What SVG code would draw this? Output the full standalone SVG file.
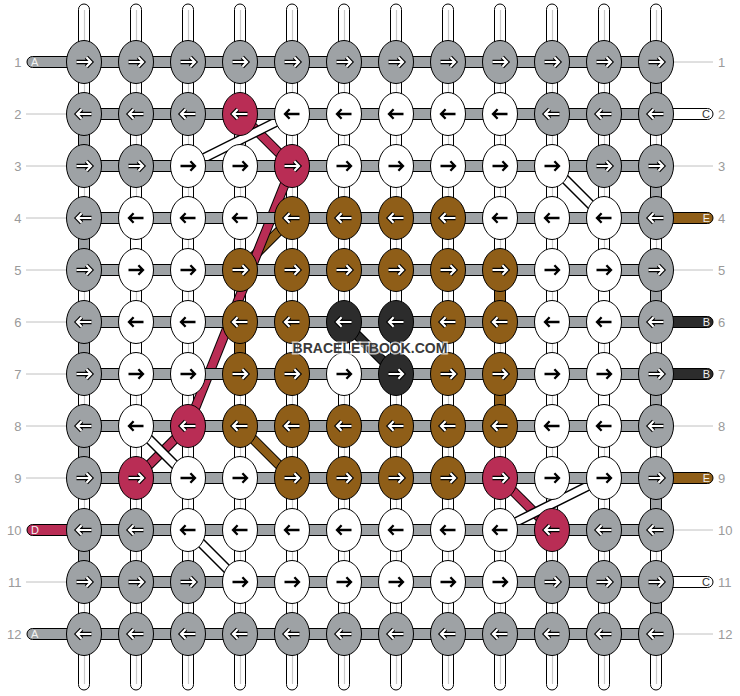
<svg xmlns="http://www.w3.org/2000/svg" xmlns:xlink="http://www.w3.org/1999/xlink" width="740" height="696" viewBox="0 0 740 696">
<style>
.G{fill:#9ea2a5}.W{fill:#fff}.R{fill:#b92d55}.B{fill:#8f5e18}.K{fill:#2c2c2c}
.tube{fill:#fff;stroke:#000;stroke-width:1}
.cl{stroke:#c8c8c8;stroke-width:1.2}
.gap{stroke:#000;stroke-width:1}
.hb{fill:#9ea2a5;stroke:#000;stroke-width:1}
.ll{stroke:#c0c0c0;stroke-width:1}
.num{font-family:"Liberation Sans",Arial,sans-serif;font-size:13px;fill:#9a9a9a}
.let{font-family:"Liberation Sans",Arial,sans-serif;font-size:11px;fill:#f2f2f2}
.bo{stroke:#000;stroke-width:10;fill:none}
</style>
<defs>
<ellipse id="k" cx="0" cy="0" rx="17.5" ry="21.5" stroke="#000" stroke-width="1"/>
<path id="ap" d="M-7.5,0H7M2.4,-4.8L7,0L2.4,4.8" fill="none" stroke-linejoin="miter"/>
<g id="wr"><use xlink:href="#ap" stroke="#000" stroke-width="4.4"/><use xlink:href="#ap" stroke="#fff" stroke-width="2.2"/></g>
<g id="wl" transform="scale(-1,1)"><use xlink:href="#ap" stroke="#000" stroke-width="4.4"/><use xlink:href="#ap" stroke="#fff" stroke-width="2.2"/></g>
<g id="br"><use xlink:href="#ap" stroke="#000" stroke-width="2.3"/></g>
<g id="bl" transform="scale(-1,1)"><use xlink:href="#ap" stroke="#000" stroke-width="2.3"/></g>
</defs>
<rect width="740" height="696" fill="#fff"/>
<g id="labels">
<line class="ll" x1="26" y1="114" x2="66" y2="114"/><line class="ll" x1="26" y1="166" x2="66" y2="166"/><line class="ll" x1="26" y1="218" x2="66" y2="218"/><line class="ll" x1="26" y1="270" x2="66" y2="270"/><line class="ll" x1="26" y1="322" x2="66" y2="322"/><line class="ll" x1="26" y1="374" x2="66" y2="374"/><line class="ll" x1="26" y1="426" x2="66" y2="426"/><line class="ll" x1="26" y1="478" x2="66" y2="478"/><line class="ll" x1="26" y1="582" x2="66" y2="582"/>
<line class="ll" x1="674" y1="62" x2="713" y2="62"/><line class="ll" x1="674" y1="166" x2="713" y2="166"/><line class="ll" x1="674" y1="270" x2="713" y2="270"/><line class="ll" x1="674" y1="426" x2="713" y2="426"/><line class="ll" x1="674" y1="530" x2="713" y2="530"/><line class="ll" x1="674" y1="634" x2="713" y2="634"/>
<g class="num" text-anchor="end">
<text x="21.5" y="66.5">1</text><text x="21.5" y="118.5">2</text><text x="21.5" y="170.5">3</text><text x="21.5" y="222.5">4</text><text x="21.5" y="274.5">5</text><text x="21.5" y="326.5">6</text><text x="21.5" y="378.5">7</text><text x="21.5" y="430.5">8</text><text x="21.5" y="482.5">9</text><text x="21.5" y="534.5">10</text><text x="21.5" y="586.5">11</text><text x="21.5" y="638.5">12</text>
</g>
<g class="num">
<text x="718" y="66.5">1</text><text x="718" y="118.5">2</text><text x="718" y="170.5">3</text><text x="718" y="222.5">4</text><text x="718" y="274.5">5</text><text x="718" y="326.5">6</text><text x="718" y="378.5">7</text><text x="718" y="430.5">8</text><text x="718" y="482.5">9</text><text x="718" y="534.5">10</text><text x="718" y="586.5">11</text><text x="718" y="638.5">12</text>
</g>
</g>
<g id="connectors">
<g id="columns">
<rect class="tube" x="78.5" y="4" width="11" height="686" rx="5.5"/><rect class="tube" x="130.5" y="4" width="11" height="686" rx="5.5"/><rect class="tube" x="182.5" y="4" width="11" height="686" rx="5.5"/><rect class="tube" x="234.5" y="4" width="11" height="686" rx="5.5"/><rect class="tube" x="286.5" y="4" width="11" height="686" rx="5.5"/><rect class="tube" x="338.5" y="4" width="11" height="686" rx="5.5"/><rect class="tube" x="390.5" y="4" width="11" height="686" rx="5.5"/><rect class="tube" x="442.5" y="4" width="11" height="686" rx="5.5"/><rect class="tube" x="494.5" y="4" width="11" height="686" rx="5.5"/><rect class="tube" x="546.5" y="4" width="11" height="686" rx="5.5"/><rect class="tube" x="598.5" y="4" width="11" height="686" rx="5.5"/><rect class="tube" x="650.5" y="4" width="11" height="686" rx="5.5"/>
<line class="cl" x1="84.5" y1="10" x2="84.5" y2="684"/><line class="cl" x1="136.5" y1="10" x2="136.5" y2="684"/><line class="cl" x1="188.5" y1="10" x2="188.5" y2="684"/><line class="cl" x1="240.5" y1="10" x2="240.5" y2="684"/><line class="cl" x1="292.5" y1="10" x2="292.5" y2="684"/><line class="cl" x1="344.5" y1="10" x2="344.5" y2="684"/><line class="cl" x1="396.5" y1="10" x2="396.5" y2="684"/><line class="cl" x1="448.5" y1="10" x2="448.5" y2="684"/><line class="cl" x1="500.5" y1="10" x2="500.5" y2="684"/><line class="cl" x1="552.5" y1="10" x2="552.5" y2="684"/><line class="cl" x1="604.5" y1="10" x2="604.5" y2="684"/><line class="cl" x1="656.5" y1="10" x2="656.5" y2="684"/>
</g>
<g id="turns">
<rect class="gap G" x="650.5" y="72" width="11" height="32"/><rect class="gap G" x="650.5" y="176" width="11" height="32"/><rect class="gap G" x="650.5" y="280" width="11" height="32"/><rect class="gap G" x="650.5" y="384" width="11" height="32"/><rect class="gap G" x="650.5" y="488" width="11" height="32"/><rect class="gap G" x="650.5" y="592" width="11" height="32"/>
<rect class="gap G" x="78.5" y="124" width="11" height="32"/><rect class="gap G" x="78.5" y="228" width="11" height="32"/><rect class="gap G" x="78.5" y="332" width="11" height="32"/><rect class="gap G" x="78.5" y="436" width="11" height="32"/><rect class="gap G" x="78.5" y="540" width="11" height="32"/>
<rect class="gap B" x="494.5" y="280" width="11" height="32"/><rect class="gap B" x="494.5" y="384" width="11" height="32"/><rect class="gap B" x="234.5" y="332" width="11" height="32"/>
<rect class="gap W" x="130.5" y="228" width="11" height="32"/><rect class="gap W" x="130.5" y="332" width="11" height="32"/><rect class="gap W" x="598.5" y="280" width="11" height="32"/><rect class="gap W" x="598.5" y="384" width="11" height="32"/>
</g>
<g id="diagonals">
<line class="bo" x1="292" y1="218" x2="240" y2="270"/><line stroke="#8f5e18" stroke-width="8" x1="292" y1="218" x2="240" y2="270"/>
<line class="bo" x1="240" y1="426" x2="292" y2="478"/><line stroke="#8f5e18" stroke-width="8" x1="240" y1="426" x2="292" y2="478"/>
<line class="bo" x1="240" y1="114" x2="292" y2="166"/><line stroke="#b92d55" stroke-width="8" x1="240" y1="114" x2="292" y2="166"/>
<line class="bo" x1="292" y1="166" x2="188" y2="426"/><line stroke="#b92d55" stroke-width="8" x1="292" y1="166" x2="188" y2="426"/>
<line class="bo" x1="188" y1="426" x2="136" y2="478"/><line stroke="#b92d55" stroke-width="8" x1="188" y1="426" x2="136" y2="478"/>
<line class="bo" x1="500" y1="478" x2="552" y2="530"/><line stroke="#b92d55" stroke-width="8" x1="500" y1="478" x2="552" y2="530"/>
<line class="bo" x1="344" y1="322" x2="396" y2="374"/><line stroke="#2c2c2c" stroke-width="8" x1="344" y1="322" x2="396" y2="374"/>
<line class="bo" stroke-width="9" x1="188" y1="166" x2="292" y2="114"/><line stroke="#fff" stroke-width="7" x1="188" y1="166" x2="292" y2="114"/>
<line class="bo" stroke-width="9" x1="552" y1="166" x2="604" y2="218"/><line stroke="#fff" stroke-width="7" x1="552" y1="166" x2="604" y2="218"/>
<line class="bo" stroke-width="9" x1="136" y1="426" x2="188" y2="478"/><line stroke="#fff" stroke-width="7" x1="136" y1="426" x2="188" y2="478"/>
<line class="bo" stroke-width="9" x1="500" y1="530" x2="604" y2="478"/><line stroke="#fff" stroke-width="7" x1="500" y1="530" x2="604" y2="478"/>
<line class="bo" stroke-width="9" x1="188" y1="530" x2="240" y2="582"/><line stroke="#fff" stroke-width="7" x1="188" y1="530" x2="240" y2="582"/>
</g>
<g id="rows">
<rect class="hb" x="84" y="56.5" width="572" height="11"/><rect class="hb" x="84" y="108.5" width="572" height="11"/><rect class="hb" x="84" y="160.5" width="572" height="11"/><rect class="hb" x="84" y="212.5" width="572" height="11"/><rect class="hb" x="84" y="264.5" width="572" height="11"/><rect class="hb" x="84" y="316.5" width="572" height="11"/><rect class="hb" x="84" y="368.5" width="572" height="11"/><rect class="hb" x="84" y="420.5" width="572" height="11"/><rect class="hb" x="84" y="472.5" width="572" height="11"/><rect class="hb" x="84" y="524.5" width="572" height="11"/><rect class="hb" x="84" y="576.5" width="572" height="11"/><rect class="hb" x="84" y="628.5" width="572" height="11"/>
</g>
<g id="tails" stroke="#000" stroke-width="1">
<path class="G" d="M84,56.5H32.5A5.5,5.5 0 0 0 32.5,67.5H84"/>
<path class="R" d="M84,524.5H32.5A5.5,5.5 0 0 0 32.5,535.5H84"/>
<path class="G" d="M84,628.5H32.5A5.5,5.5 0 0 0 32.5,639.5H84"/>
<path class="W" d="M656,108.5H707.5A5.5,5.5 0 0 1 707.5,119.5H656"/>
<path class="B" d="M656,212.5H707.5A5.5,5.5 0 0 1 707.5,223.5H656"/>
<path class="K" d="M656,316.5H707.5A5.5,5.5 0 0 1 707.5,327.5H656"/>
<path class="K" d="M656,368.5H707.5A5.5,5.5 0 0 1 707.5,379.5H656"/>
<path class="B" d="M656,472.5H707.5A5.5,5.5 0 0 1 707.5,483.5H656"/>
<path class="W" d="M656,576.5H707.5A5.5,5.5 0 0 1 707.5,587.5H656"/>
</g>
<g id="tail-letters" class="let">
<text x="31" y="66">A</text><text x="31" y="534">D</text><text x="31" y="638">A</text>
<text x="710" y="118" text-anchor="end" style="fill:#333">C</text><text x="710" y="222" text-anchor="end">E</text><text x="710" y="326" text-anchor="end">B</text><text x="710" y="378" text-anchor="end">B</text><text x="710" y="482" text-anchor="end">E</text><text x="710" y="586" text-anchor="end" style="fill:#333">C</text>
</g>
</g>
<g id="knots">
<g id="k1_1"><use xlink:href="#k" class="G" x="84" y="62"/><use xlink:href="#wr" x="84" y="62"/></g>
<g id="k1_2"><use xlink:href="#k" class="G" x="136" y="62"/><use xlink:href="#wr" x="136" y="62"/></g>
<g id="k1_3"><use xlink:href="#k" class="G" x="188" y="62"/><use xlink:href="#wr" x="188" y="62"/></g>
<g id="k1_4"><use xlink:href="#k" class="G" x="240" y="62"/><use xlink:href="#wr" x="240" y="62"/></g>
<g id="k1_5"><use xlink:href="#k" class="G" x="292" y="62"/><use xlink:href="#wr" x="292" y="62"/></g>
<g id="k1_6"><use xlink:href="#k" class="G" x="344" y="62"/><use xlink:href="#wr" x="344" y="62"/></g>
<g id="k1_7"><use xlink:href="#k" class="G" x="396" y="62"/><use xlink:href="#wr" x="396" y="62"/></g>
<g id="k1_8"><use xlink:href="#k" class="G" x="448" y="62"/><use xlink:href="#wr" x="448" y="62"/></g>
<g id="k1_9"><use xlink:href="#k" class="G" x="500" y="62"/><use xlink:href="#wr" x="500" y="62"/></g>
<g id="k1_10"><use xlink:href="#k" class="G" x="552" y="62"/><use xlink:href="#wr" x="552" y="62"/></g>
<g id="k1_11"><use xlink:href="#k" class="G" x="604" y="62"/><use xlink:href="#wr" x="604" y="62"/></g>
<g id="k1_12"><use xlink:href="#k" class="G" x="656" y="62"/><use xlink:href="#wr" x="656" y="62"/></g>

<g id="k2_1"><use xlink:href="#k" class="G" x="84" y="114"/><use xlink:href="#wl" x="84" y="114"/></g>
<g id="k2_2"><use xlink:href="#k" class="G" x="136" y="114"/><use xlink:href="#wl" x="136" y="114"/></g>
<g id="k2_3"><use xlink:href="#k" class="G" x="188" y="114"/><use xlink:href="#wl" x="188" y="114"/></g>
<g id="k2_4"><use xlink:href="#k" class="R" x="240" y="114"/><use xlink:href="#wl" x="240" y="114"/></g>
<g id="k2_5"><use xlink:href="#k" class="W" x="292" y="114"/><use xlink:href="#bl" x="292" y="114"/></g>
<g id="k2_6"><use xlink:href="#k" class="W" x="344" y="114"/><use xlink:href="#bl" x="344" y="114"/></g>
<g id="k2_7"><use xlink:href="#k" class="W" x="396" y="114"/><use xlink:href="#bl" x="396" y="114"/></g>
<g id="k2_8"><use xlink:href="#k" class="W" x="448" y="114"/><use xlink:href="#bl" x="448" y="114"/></g>
<g id="k2_9"><use xlink:href="#k" class="W" x="500" y="114"/><use xlink:href="#bl" x="500" y="114"/></g>
<g id="k2_10"><use xlink:href="#k" class="G" x="552" y="114"/><use xlink:href="#wl" x="552" y="114"/></g>
<g id="k2_11"><use xlink:href="#k" class="G" x="604" y="114"/><use xlink:href="#wl" x="604" y="114"/></g>
<g id="k2_12"><use xlink:href="#k" class="G" x="656" y="114"/><use xlink:href="#wl" x="656" y="114"/></g>

<g id="k3_1"><use xlink:href="#k" class="G" x="84" y="166"/><use xlink:href="#wr" x="84" y="166"/></g>
<g id="k3_2"><use xlink:href="#k" class="G" x="136" y="166"/><use xlink:href="#wr" x="136" y="166"/></g>
<g id="k3_3"><use xlink:href="#k" class="W" x="188" y="166"/><use xlink:href="#br" x="188" y="166"/></g>
<g id="k3_4"><use xlink:href="#k" class="W" x="240" y="166"/><use xlink:href="#br" x="240" y="166"/></g>
<g id="k3_5"><use xlink:href="#k" class="R" x="292" y="166"/><use xlink:href="#wr" x="292" y="166"/></g>
<g id="k3_6"><use xlink:href="#k" class="W" x="344" y="166"/><use xlink:href="#br" x="344" y="166"/></g>
<g id="k3_7"><use xlink:href="#k" class="W" x="396" y="166"/><use xlink:href="#br" x="396" y="166"/></g>
<g id="k3_8"><use xlink:href="#k" class="W" x="448" y="166"/><use xlink:href="#br" x="448" y="166"/></g>
<g id="k3_9"><use xlink:href="#k" class="W" x="500" y="166"/><use xlink:href="#br" x="500" y="166"/></g>
<g id="k3_10"><use xlink:href="#k" class="W" x="552" y="166"/><use xlink:href="#br" x="552" y="166"/></g>
<g id="k3_11"><use xlink:href="#k" class="G" x="604" y="166"/><use xlink:href="#wr" x="604" y="166"/></g>
<g id="k3_12"><use xlink:href="#k" class="G" x="656" y="166"/><use xlink:href="#wr" x="656" y="166"/></g>

<g id="k4_1"><use xlink:href="#k" class="G" x="84" y="218"/><use xlink:href="#wl" x="84" y="218"/></g>
<g id="k4_2"><use xlink:href="#k" class="W" x="136" y="218"/><use xlink:href="#bl" x="136" y="218"/></g>
<g id="k4_3"><use xlink:href="#k" class="W" x="188" y="218"/><use xlink:href="#bl" x="188" y="218"/></g>
<g id="k4_4"><use xlink:href="#k" class="W" x="240" y="218"/><use xlink:href="#bl" x="240" y="218"/></g>
<g id="k4_5"><use xlink:href="#k" class="B" x="292" y="218"/><use xlink:href="#wl" x="292" y="218"/></g>
<g id="k4_6"><use xlink:href="#k" class="B" x="344" y="218"/><use xlink:href="#wl" x="344" y="218"/></g>
<g id="k4_7"><use xlink:href="#k" class="B" x="396" y="218"/><use xlink:href="#wl" x="396" y="218"/></g>
<g id="k4_8"><use xlink:href="#k" class="B" x="448" y="218"/><use xlink:href="#wl" x="448" y="218"/></g>
<g id="k4_9"><use xlink:href="#k" class="W" x="500" y="218"/><use xlink:href="#bl" x="500" y="218"/></g>
<g id="k4_10"><use xlink:href="#k" class="W" x="552" y="218"/><use xlink:href="#bl" x="552" y="218"/></g>
<g id="k4_11"><use xlink:href="#k" class="W" x="604" y="218"/><use xlink:href="#bl" x="604" y="218"/></g>
<g id="k4_12"><use xlink:href="#k" class="G" x="656" y="218"/><use xlink:href="#wl" x="656" y="218"/></g>

<g id="k5_1"><use xlink:href="#k" class="G" x="84" y="270"/><use xlink:href="#wr" x="84" y="270"/></g>
<g id="k5_2"><use xlink:href="#k" class="W" x="136" y="270"/><use xlink:href="#br" x="136" y="270"/></g>
<g id="k5_3"><use xlink:href="#k" class="W" x="188" y="270"/><use xlink:href="#br" x="188" y="270"/></g>
<g id="k5_4"><use xlink:href="#k" class="B" x="240" y="270"/><use xlink:href="#wr" x="240" y="270"/></g>
<g id="k5_5"><use xlink:href="#k" class="B" x="292" y="270"/><use xlink:href="#wr" x="292" y="270"/></g>
<g id="k5_6"><use xlink:href="#k" class="B" x="344" y="270"/><use xlink:href="#wr" x="344" y="270"/></g>
<g id="k5_7"><use xlink:href="#k" class="B" x="396" y="270"/><use xlink:href="#wr" x="396" y="270"/></g>
<g id="k5_8"><use xlink:href="#k" class="B" x="448" y="270"/><use xlink:href="#wr" x="448" y="270"/></g>
<g id="k5_9"><use xlink:href="#k" class="B" x="500" y="270"/><use xlink:href="#wr" x="500" y="270"/></g>
<g id="k5_10"><use xlink:href="#k" class="W" x="552" y="270"/><use xlink:href="#br" x="552" y="270"/></g>
<g id="k5_11"><use xlink:href="#k" class="W" x="604" y="270"/><use xlink:href="#br" x="604" y="270"/></g>
<g id="k5_12"><use xlink:href="#k" class="G" x="656" y="270"/><use xlink:href="#wr" x="656" y="270"/></g>

<g id="k6_1"><use xlink:href="#k" class="G" x="84" y="322"/><use xlink:href="#wl" x="84" y="322"/></g>
<g id="k6_2"><use xlink:href="#k" class="W" x="136" y="322"/><use xlink:href="#bl" x="136" y="322"/></g>
<g id="k6_3"><use xlink:href="#k" class="W" x="188" y="322"/><use xlink:href="#bl" x="188" y="322"/></g>
<g id="k6_4"><use xlink:href="#k" class="B" x="240" y="322"/><use xlink:href="#wl" x="240" y="322"/></g>
<g id="k6_5"><use xlink:href="#k" class="B" x="292" y="322"/><use xlink:href="#wl" x="292" y="322"/></g>
<g id="k6_6"><use xlink:href="#k" class="K" x="344" y="322"/><use xlink:href="#wl" x="344" y="322"/></g>
<g id="k6_7"><use xlink:href="#k" class="K" x="396" y="322"/><use xlink:href="#wl" x="396" y="322"/></g>
<g id="k6_8"><use xlink:href="#k" class="B" x="448" y="322"/><use xlink:href="#wl" x="448" y="322"/></g>
<g id="k6_9"><use xlink:href="#k" class="B" x="500" y="322"/><use xlink:href="#wl" x="500" y="322"/></g>
<g id="k6_10"><use xlink:href="#k" class="W" x="552" y="322"/><use xlink:href="#bl" x="552" y="322"/></g>
<g id="k6_11"><use xlink:href="#k" class="W" x="604" y="322"/><use xlink:href="#bl" x="604" y="322"/></g>
<g id="k6_12"><use xlink:href="#k" class="G" x="656" y="322"/><use xlink:href="#wl" x="656" y="322"/></g>

<g id="k7_1"><use xlink:href="#k" class="G" x="84" y="374"/><use xlink:href="#wr" x="84" y="374"/></g>
<g id="k7_2"><use xlink:href="#k" class="W" x="136" y="374"/><use xlink:href="#br" x="136" y="374"/></g>
<g id="k7_3"><use xlink:href="#k" class="W" x="188" y="374"/><use xlink:href="#br" x="188" y="374"/></g>
<g id="k7_4"><use xlink:href="#k" class="B" x="240" y="374"/><use xlink:href="#wr" x="240" y="374"/></g>
<g id="k7_5"><use xlink:href="#k" class="B" x="292" y="374"/><use xlink:href="#wr" x="292" y="374"/></g>
<g id="k7_6"><use xlink:href="#k" class="W" x="344" y="374"/><use xlink:href="#br" x="344" y="374"/></g>
<g id="k7_7"><use xlink:href="#k" class="K" x="396" y="374"/><use xlink:href="#wr" x="396" y="374"/></g>
<g id="k7_8"><use xlink:href="#k" class="B" x="448" y="374"/><use xlink:href="#wr" x="448" y="374"/></g>
<g id="k7_9"><use xlink:href="#k" class="B" x="500" y="374"/><use xlink:href="#wr" x="500" y="374"/></g>
<g id="k7_10"><use xlink:href="#k" class="W" x="552" y="374"/><use xlink:href="#br" x="552" y="374"/></g>
<g id="k7_11"><use xlink:href="#k" class="W" x="604" y="374"/><use xlink:href="#br" x="604" y="374"/></g>
<g id="k7_12"><use xlink:href="#k" class="G" x="656" y="374"/><use xlink:href="#wr" x="656" y="374"/></g>

<g id="k8_1"><use xlink:href="#k" class="G" x="84" y="426"/><use xlink:href="#wl" x="84" y="426"/></g>
<g id="k8_2"><use xlink:href="#k" class="W" x="136" y="426"/><use xlink:href="#bl" x="136" y="426"/></g>
<g id="k8_3"><use xlink:href="#k" class="R" x="188" y="426"/><use xlink:href="#wl" x="188" y="426"/></g>
<g id="k8_4"><use xlink:href="#k" class="B" x="240" y="426"/><use xlink:href="#wl" x="240" y="426"/></g>
<g id="k8_5"><use xlink:href="#k" class="B" x="292" y="426"/><use xlink:href="#wl" x="292" y="426"/></g>
<g id="k8_6"><use xlink:href="#k" class="B" x="344" y="426"/><use xlink:href="#wl" x="344" y="426"/></g>
<g id="k8_7"><use xlink:href="#k" class="B" x="396" y="426"/><use xlink:href="#wl" x="396" y="426"/></g>
<g id="k8_8"><use xlink:href="#k" class="B" x="448" y="426"/><use xlink:href="#wl" x="448" y="426"/></g>
<g id="k8_9"><use xlink:href="#k" class="B" x="500" y="426"/><use xlink:href="#wl" x="500" y="426"/></g>
<g id="k8_10"><use xlink:href="#k" class="W" x="552" y="426"/><use xlink:href="#bl" x="552" y="426"/></g>
<g id="k8_11"><use xlink:href="#k" class="W" x="604" y="426"/><use xlink:href="#bl" x="604" y="426"/></g>
<g id="k8_12"><use xlink:href="#k" class="G" x="656" y="426"/><use xlink:href="#wl" x="656" y="426"/></g>

<g id="k9_1"><use xlink:href="#k" class="G" x="84" y="478"/><use xlink:href="#wr" x="84" y="478"/></g>
<g id="k9_2"><use xlink:href="#k" class="R" x="136" y="478"/><use xlink:href="#wr" x="136" y="478"/></g>
<g id="k9_3"><use xlink:href="#k" class="W" x="188" y="478"/><use xlink:href="#br" x="188" y="478"/></g>
<g id="k9_4"><use xlink:href="#k" class="W" x="240" y="478"/><use xlink:href="#br" x="240" y="478"/></g>
<g id="k9_5"><use xlink:href="#k" class="B" x="292" y="478"/><use xlink:href="#wr" x="292" y="478"/></g>
<g id="k9_6"><use xlink:href="#k" class="B" x="344" y="478"/><use xlink:href="#wr" x="344" y="478"/></g>
<g id="k9_7"><use xlink:href="#k" class="B" x="396" y="478"/><use xlink:href="#wr" x="396" y="478"/></g>
<g id="k9_8"><use xlink:href="#k" class="B" x="448" y="478"/><use xlink:href="#wr" x="448" y="478"/></g>
<g id="k9_9"><use xlink:href="#k" class="R" x="500" y="478"/><use xlink:href="#wr" x="500" y="478"/></g>
<g id="k9_10"><use xlink:href="#k" class="W" x="552" y="478"/><use xlink:href="#br" x="552" y="478"/></g>
<g id="k9_11"><use xlink:href="#k" class="W" x="604" y="478"/><use xlink:href="#br" x="604" y="478"/></g>
<g id="k9_12"><use xlink:href="#k" class="G" x="656" y="478"/><use xlink:href="#wr" x="656" y="478"/></g>

<g id="k10_1"><use xlink:href="#k" class="G" x="84" y="530"/><use xlink:href="#wl" x="84" y="530"/></g>
<g id="k10_2"><use xlink:href="#k" class="G" x="136" y="530"/><use xlink:href="#wl" x="136" y="530"/></g>
<g id="k10_3"><use xlink:href="#k" class="W" x="188" y="530"/><use xlink:href="#bl" x="188" y="530"/></g>
<g id="k10_4"><use xlink:href="#k" class="W" x="240" y="530"/><use xlink:href="#bl" x="240" y="530"/></g>
<g id="k10_5"><use xlink:href="#k" class="W" x="292" y="530"/><use xlink:href="#bl" x="292" y="530"/></g>
<g id="k10_6"><use xlink:href="#k" class="W" x="344" y="530"/><use xlink:href="#bl" x="344" y="530"/></g>
<g id="k10_7"><use xlink:href="#k" class="W" x="396" y="530"/><use xlink:href="#bl" x="396" y="530"/></g>
<g id="k10_8"><use xlink:href="#k" class="W" x="448" y="530"/><use xlink:href="#bl" x="448" y="530"/></g>
<g id="k10_9"><use xlink:href="#k" class="W" x="500" y="530"/><use xlink:href="#bl" x="500" y="530"/></g>
<g id="k10_10"><use xlink:href="#k" class="R" x="552" y="530"/><use xlink:href="#wl" x="552" y="530"/></g>
<g id="k10_11"><use xlink:href="#k" class="G" x="604" y="530"/><use xlink:href="#wl" x="604" y="530"/></g>
<g id="k10_12"><use xlink:href="#k" class="G" x="656" y="530"/><use xlink:href="#wl" x="656" y="530"/></g>

<g id="k11_1"><use xlink:href="#k" class="G" x="84" y="582"/><use xlink:href="#wr" x="84" y="582"/></g>
<g id="k11_2"><use xlink:href="#k" class="G" x="136" y="582"/><use xlink:href="#wr" x="136" y="582"/></g>
<g id="k11_3"><use xlink:href="#k" class="G" x="188" y="582"/><use xlink:href="#wr" x="188" y="582"/></g>
<g id="k11_4"><use xlink:href="#k" class="W" x="240" y="582"/><use xlink:href="#br" x="240" y="582"/></g>
<g id="k11_5"><use xlink:href="#k" class="W" x="292" y="582"/><use xlink:href="#br" x="292" y="582"/></g>
<g id="k11_6"><use xlink:href="#k" class="W" x="344" y="582"/><use xlink:href="#br" x="344" y="582"/></g>
<g id="k11_7"><use xlink:href="#k" class="W" x="396" y="582"/><use xlink:href="#br" x="396" y="582"/></g>
<g id="k11_8"><use xlink:href="#k" class="W" x="448" y="582"/><use xlink:href="#br" x="448" y="582"/></g>
<g id="k11_9"><use xlink:href="#k" class="W" x="500" y="582"/><use xlink:href="#br" x="500" y="582"/></g>
<g id="k11_10"><use xlink:href="#k" class="G" x="552" y="582"/><use xlink:href="#wr" x="552" y="582"/></g>
<g id="k11_11"><use xlink:href="#k" class="G" x="604" y="582"/><use xlink:href="#wr" x="604" y="582"/></g>
<g id="k11_12"><use xlink:href="#k" class="G" x="656" y="582"/><use xlink:href="#wr" x="656" y="582"/></g>

<g id="k12_1"><use xlink:href="#k" class="G" x="84" y="634"/><use xlink:href="#wl" x="84" y="634"/></g>
<g id="k12_2"><use xlink:href="#k" class="G" x="136" y="634"/><use xlink:href="#wl" x="136" y="634"/></g>
<g id="k12_3"><use xlink:href="#k" class="G" x="188" y="634"/><use xlink:href="#wl" x="188" y="634"/></g>
<g id="k12_4"><use xlink:href="#k" class="G" x="240" y="634"/><use xlink:href="#wl" x="240" y="634"/></g>
<g id="k12_5"><use xlink:href="#k" class="G" x="292" y="634"/><use xlink:href="#wl" x="292" y="634"/></g>
<g id="k12_6"><use xlink:href="#k" class="G" x="344" y="634"/><use xlink:href="#wl" x="344" y="634"/></g>
<g id="k12_7"><use xlink:href="#k" class="G" x="396" y="634"/><use xlink:href="#wl" x="396" y="634"/></g>
<g id="k12_8"><use xlink:href="#k" class="G" x="448" y="634"/><use xlink:href="#wl" x="448" y="634"/></g>
<g id="k12_9"><use xlink:href="#k" class="G" x="500" y="634"/><use xlink:href="#wl" x="500" y="634"/></g>
<g id="k12_10"><use xlink:href="#k" class="G" x="552" y="634"/><use xlink:href="#wl" x="552" y="634"/></g>
<g id="k12_11"><use xlink:href="#k" class="G" x="604" y="634"/><use xlink:href="#wl" x="604" y="634"/></g>
<g id="k12_12"><use xlink:href="#k" class="G" x="656" y="634"/><use xlink:href="#wl" x="656" y="634"/></g>
</g>
<text x="370" y="352.5" text-anchor="middle" font-family="'Liberation Sans',Arial,sans-serif" font-weight="bold" font-size="14" fill="#3a3a3a" stroke="#fff" stroke-opacity="0.7" stroke-width="3" paint-order="stroke">BRACELETBOOK.COM</text>
</svg>
